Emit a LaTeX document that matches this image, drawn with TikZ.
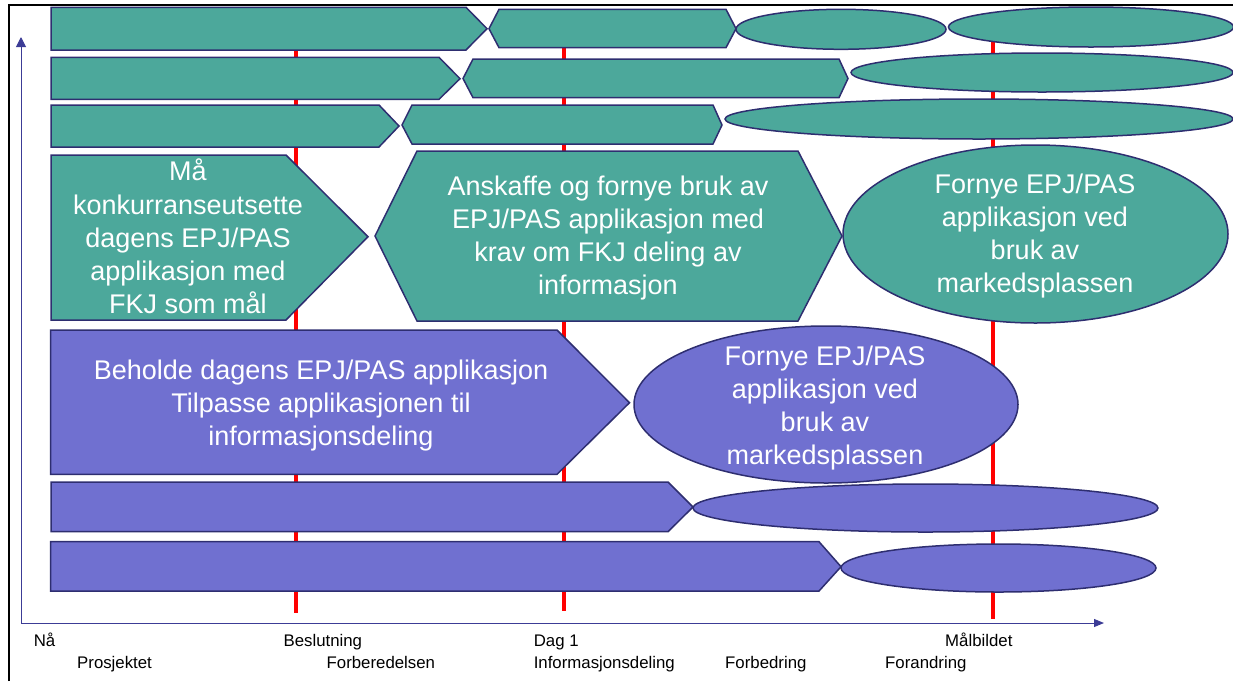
\documentclass[tikz,border=0pt]{standalone}
\usepackage{fontspec}
\setmainfont{Liberation Sans}
\usetikzlibrary{arrows.meta}
\definecolor{tealfill}{RGB}{76,168,155}
\definecolor{purpfill}{RGB}{112,112,208}
\definecolor{navyline}{RGB}{46,46,112}
\definecolor{axiscol}{RGB}{60,60,150}
\tikzset{
  shp/.style={draw=navyline, line width=1.5pt, line join=miter},
  tealshape/.style={shp, fill=tealfill},
  purpshape/.style={shp, fill=purpfill},
  redline/.style={draw=red, line width=4pt},
  axisline/.style={draw=axiscol, line width=1pt},
  bigtext/.style={inner sep=0pt, anchor=base, text=white, font=\fontsize{27}{33.3}\selectfont},
  lbl/.style={inner sep=0pt, anchor=base west, text=black, font=\fontsize{16.8}{20}\selectfont},
}
\newcommand{\blk}[1]{\parbox[t]{480pt}{\centering #1}}
\begin{document}
\begin{tikzpicture}[x=1pt,y=-1pt]
\useasboundingbox (0,0) rectangle (1233,681);
% red milestone lines (behind everything)
\draw[redline] (296,30) -- (296,613);
\draw[redline] (564,30) -- (564,611);
\draw[redline] (993,30) -- (993,619);
% row 1
\draw[tealshape] (51,7.3) -- (466,7.3) -- (487,28.7) -- (466,50) -- (51,50) -- cycle;
\draw[tealshape] (489,28.7) -- (499,9.3) -- (726,9.3) -- (736,28.7) -- (726,47.7) -- (499,47.7) -- cycle;
\draw[tealshape] (841,29.3) ellipse [x radius=105pt, y radius=20pt];
\draw[tealshape] (1091,27) ellipse [x radius=142.5pt, y radius=20pt];
% row 2
\draw[tealshape] (51,57.3) -- (439,57.3) -- (460,78.7) -- (439,99.3) -- (51,99.3) -- cycle;
\draw[tealshape] (463,78.5) -- (473,59) -- (839,59) -- (848,78.5) -- (839,97.7) -- (473,97.7) -- cycle;
\draw[tealshape] (1042,72.5) ellipse [x radius=191pt, y radius=19.5pt];
% row 3
\draw[tealshape] (51,105) -- (379,105) -- (399,126) -- (379,147) -- (51,147) -- cycle;
\draw[tealshape] (402,125) -- (412,105) -- (713,105) -- (722,125) -- (713,144) -- (412,144) -- cycle;
\draw[tealshape] (979,119) ellipse [x radius=254pt, y radius=20pt];
% row 4
\draw[tealshape] (51,155) -- (286,155) -- (368,236.7) -- (286,320) -- (51,320) -- cycle;
\draw[tealshape] (375,236) -- (417,151) -- (798,151) -- (842,236) -- (798,321) -- (417,321) -- cycle;
\draw[tealshape] (1035.5,234) ellipse [x radius=192.5pt, y radius=89pt];
% row 5
\draw[purpshape] (50.5,330) -- (557,330) -- (629.5,402.7) -- (557,474.3) -- (50.5,474.3) -- cycle;
\draw[purpshape] (826,404.5) ellipse [x radius=192pt, y radius=78.5pt];
% row 6
\draw[purpshape] (51,482) -- (668,482) -- (693,507) -- (668,531.7) -- (51,531.7) -- cycle;
\draw[purpshape] (925.5,508) ellipse [x radius=232.5pt, y radius=24pt];
% row 7
\draw[purpshape] (50.5,541.7) -- (819,541.7) -- (841,566.7) -- (819,591) -- (50.5,591) -- cycle;
\draw[purpshape] (998.5,568) ellipse [x radius=157.5pt, y radius=24pt];
% texts
\node[bigtext] (t1) at (188,180.7) {\blk{Må\\konkurranseutsette\\dagens EPJ/PAS\\applikasjon med\\FKJ som mål}};
\node[bigtext] (t2) at (608,195) {\blk{Anskaffe og fornye bruk av\\EPJ/PAS applikasjon med\\krav om FKJ deling av\\informasjon}};
\node[bigtext] (t3) at (1035,193) {\blk{Fornye EPJ/PAS\\applikasjon ved\\bruk av\\markedsplassen}};
\node[bigtext] (t4) at (321,379) {\blk{Beholde dagens EPJ/PAS applikasjon\\Tilpasse applikasjonen til\\informasjonsdeling}};
\node[bigtext] (t5) at (825,365) {\blk{Fornye EPJ/PAS\\applikasjon ved\\bruk av\\markedsplassen}};
% axes
\coordinate (O) at (21,623);
\coordinate (ytip) at (21,37);
\coordinate (xtip) at (1104,623);
\draw[axisline, -{Triangle[length=10pt,width=10pt]}] (O) -- (ytip);
\draw[axisline, -{Triangle[length=10pt,width=8pt]}] (O) -- (xtip);
% axis labels
\node[lbl] (l1) at (33.6,646) {Nå};
\node[lbl] (l2) at (283.4,646) {Beslutning};
\node[lbl] (l3) at (533.6,646) {Dag 1};
\node[lbl] (l4) at (945,646) {Målbildet};
\node[lbl] (l5) at (77,668) {Prosjektet};
\node[lbl] (l6) at (326.5,668) {Forberedelsen};
\node[lbl] (l7) at (533.6,668) {Informasjonsdeling};
\node[lbl] (l8) at (725,668) {Forbedring};
\node[lbl] (l9) at (885,668) {Forandring};
% frame
\draw[line width=2pt, black] (9,681) -- (9,5) -- (1234,5);
\end{tikzpicture}
\end{document}
